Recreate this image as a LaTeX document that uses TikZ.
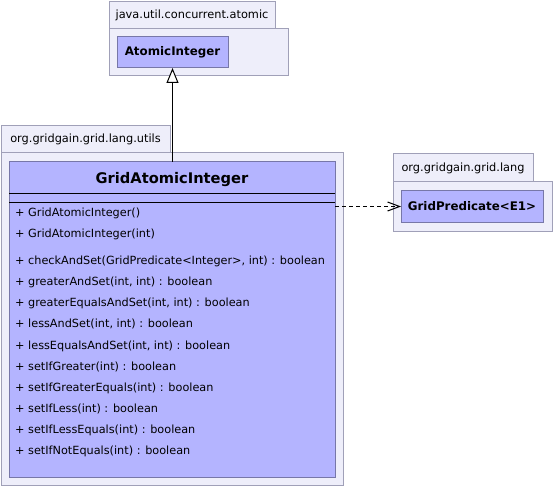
\documentclass[tikz,border=0pt]{standalone}
\usepackage{fontspec}
\setmainfont{DejaVu Sans}
\usetikzlibrary{arrows.meta}
\definecolor{pkgfill}{RGB}{238,238,250}
\definecolor{pkgdraw}{RGB}{160,160,184}
\definecolor{clsfill}{RGB}{180,180,255}
\definecolor{clsdraw}{RGB}{119,119,168}
\tikzset{
  box/.style={anchor=north west, inner sep=0pt, outer sep=0pt, line width=1bp},
  pkgtab/.style={box, draw=pkgdraw, fill=pkgfill},
  pkglabel/.style={inner sep=0pt, font=\fontsize{11.4}{13}\selectfont},
  pkgbody/.style={box, draw=pkgdraw, fill=pkgfill},
  cls/.style={box, draw=clsdraw, fill=clsfill},
  clsname/.style={font=\fontsize{11.9}{14}\selectfont\bfseries, inner sep=0pt},
  member/.style={anchor=west, inner sep=0pt, font=\fontsize{11.3}{13}\selectfont},
  sep/.style={line width=1bp, black},
}
\begin{document}
\begin{tikzpicture}[x=1bp,y=-1bp]
\useasboundingbox (0,0) rectangle (553,487);
% package java.util.concurrent.atomic
\node[pkgtab, minimum width=166bp, minimum height=27bp] (t1) at (109,2) {};
\node[pkglabel] (t1l) at (t1.center) {java.util.concurrent.atomic};
\node[pkgbody, minimum width=179bp, minimum height=47bp] (p1) at (109,29) {};
\node[cls, minimum width=111bp, minimum height=31bp] (c1) at (117,37) {};
\node[clsname] (c1n) at (c1.center) {AtomicInteger};
% package org.gridgain.grid.lang.utils
\node[pkgtab, minimum width=169bp, minimum height=27bp] (t2) at (1,126) {};
\node[pkglabel] (t2l) at (t2.center) {org.gridgain.grid.lang.utils};
\node[pkgbody, minimum width=342bp, minimum height=332bp] (p2) at (1,153) {};
\node[cls, minimum width=326bp, minimum height=315bp] (c2) at (9,162) {};
\node[clsname, font=\fontsize{14.7}{18}\selectfont\bfseries] (c2n) at (172,180) {GridAtomicInteger};
\draw[sep] (c2.west |- 0,194) -- (c2.east |- 0,194);
\draw[sep] (c2.west |- 0,203) -- (c2.east |- 0,203);
\node[member] (m1) at (15,213) {+ GridAtomicInteger()};
\node[member] (m2) at (15,234) {+ GridAtomicInteger(int)};
\node[member] (m3) at (15,261) {+ checkAndSet(GridPredicate<Integer>, int) : boolean};
\node[member] (m4) at (15,282) {+ greaterAndSet(int, int) : boolean};
\node[member] (m5) at (15,303) {+ greaterEqualsAndSet(int, int) : boolean};
\node[member] (m6) at (15,324) {+ lessAndSet(int, int) : boolean};
\node[member] (m7) at (15,346) {+ lessEqualsAndSet(int, int) : boolean};
\node[member] (m8) at (15,367) {+ setIfGreater(int) : boolean};
\node[member] (m9) at (15,388) {+ setIfGreaterEquals(int) : boolean};
\node[member] (m10) at (15,409) {+ setIfLess(int) : boolean};
\node[member] (m11) at (15,430) {+ setIfLessEquals(int) : boolean};
\node[member] (m12) at (15,451) {+ setIfNotEquals(int) : boolean};
% package org.gridgain.grid.lang
\node[pkgtab, minimum width=140bp, minimum height=28bp] (t3) at (393,154) {};
\node[pkglabel] (t3l) at (t3.center) {org.gridgain.grid.lang};
\node[pkgbody, minimum width=159bp, minimum height=49bp] (p3) at (393,182) {};
\node[cls, minimum width=142bp, minimum height=31bp] (c3) at (401,191) {};
\node[clsname] (c3n) at (c3.center) {GridPredicate<E1>};
% connectors
\draw[line width=1bp, -{Triangle[open, length=15bp, width=12bp, fill=white]}] (c1.south |- c2.north) -- (c1.south);
\draw[line width=1bp, dash pattern=on 4bp off 3bp, -{Straight Barb[length=12bp, width=9bp, line width=1bp]}] (c2.east |- c3.west) -- (c3.west);
\end{tikzpicture}
\end{document}
